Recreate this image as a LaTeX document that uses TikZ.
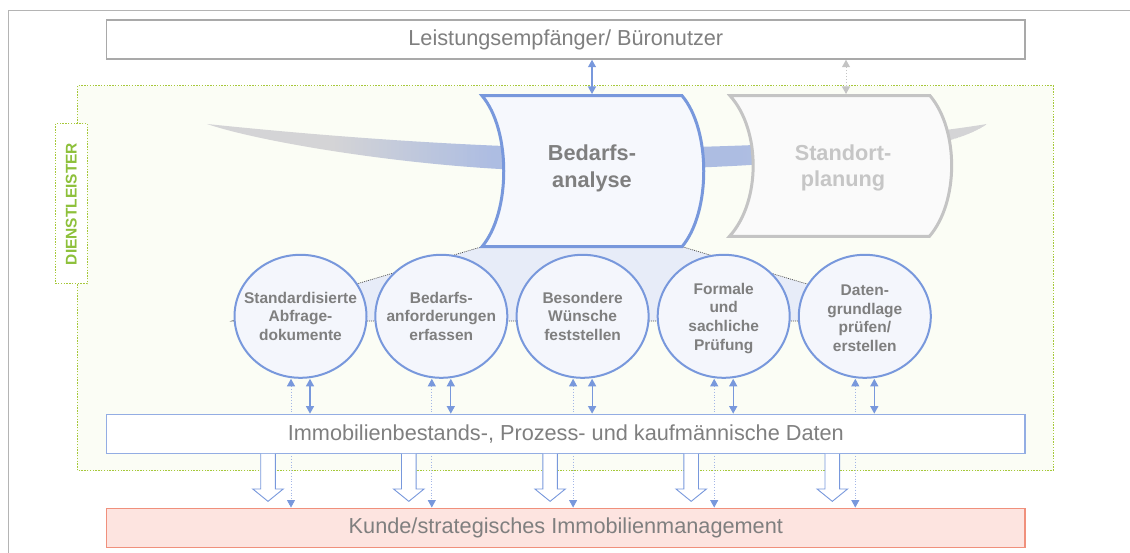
\documentclass[tikz,border=0pt]{standalone}
\usepackage{fontspec}
\setmainfont{Liberation Sans}
\usetikzlibrary{arrows.meta,shapes.geometric}

\definecolor{framegray}{HTML}{B4B4B4}
\definecolor{boxgray}{HTML}{A9A9A9}
\definecolor{txtgray}{HTML}{7F7F7F}
\definecolor{palegray}{HTML}{C4C4C4}
\definecolor{paletxt}{HTML}{C6C6C6}
\definecolor{leaf}{HTML}{A6C83A}
\definecolor{leaftxt}{HTML}{8DC03A}
\definecolor{leafbg}{HTML}{FBFDF5}
\definecolor{azure}{HTML}{7898DC}
\definecolor{azurelight}{HTML}{A3B6E6}
\definecolor{cellfill}{HTML}{F4F6FC}
\definecolor{shapefill}{HTML}{F6F8FD}
\definecolor{fanfill}{HTML}{E7ECF8}
\definecolor{salmon}{HTML}{F0907C}
\definecolor{salmonbg}{HTML}{FDE4E0}
\definecolor{sweepgray}{HTML}{D4D4D6}
\definecolor{sweepblue}{HTML}{ADBDE2}

\tikzset{
  bar/.style={rectangle, minimum width=918.3pt, minimum height=39pt, inner sep=0pt,
    text=txtgray, font=\fontsize{21.7}{26}\selectfont},
  cell/.style={ellipse, draw=azure, line width=2pt, fill=cellfill,
    minimum width=132pt, minimum height=123pt, inner sep=0pt},
  celltext/.style={align=center, inner sep=0pt,
    text=txtgray, font=\fontsize{15.5}{18.7}\selectfont\bfseries},
  bigtext/.style={align=center, inner sep=0pt, font=\fontsize{21.7}{26.7}\selectfont\bfseries},
  link/.style={draw=azure, line width=1.2pt, {Triangle[width=8pt,length=7.5pt,color=azure]}-{Triangle[width=8pt,length=7.5pt,color=azure]}},
  faintlink/.style={draw=azurelight, line width=0.8pt, dotted,
    {Triangle[width=8pt,length=7.5pt,color=azure]}-{Triangle[width=8pt,length=7.5pt,color=azure]}},
  greylink/.style={draw=palegray, line width=1pt, dotted,
    {Triangle[width=8pt,length=7.5pt,color=palegray]}-{Triangle[width=8pt,length=7.5pt,color=palegray]}},
  hollow/.style={draw=azure, line width=0.9pt, fill=white, line join=miter},
  leafline/.style={draw=leaf, line width=1pt, dash pattern=on 1.4pt off 1.4pt},
  fanedge/.style={draw=black!70, line width=0.7pt, dash pattern=on 1pt off 1pt},
}

\begin{document}
\begin{tikzpicture}[x=1pt,y=-1pt]
\useasboundingbox (0,0) rectangle (1130,553);

% outer frame (top and left edges)
\draw[framegray, line width=1.2pt] (8.5,553) -- (8.5,10.5) -- (1130,10.5);

% service provider area with its side tab
\fill[leafbg] (77.3,85.7) rectangle (1053,470.5);
\draw[leafline] (77.3,123.7) -- (77.3,85.7) -- (1053,85.7) -- (1053,470.5) -- (77.3,470.5) -- (77.3,283.7);
\draw[leafline, fill=white] (55.7,123.7) rectangle (87.3,283.7);
\node[rotate=90, text=leaftxt, inner sep=0pt, font=\fontsize{15.5}{18}\selectfont\bfseries] (dl) at (71.3,204) {DIENSTLEISTER};

% sweeping band behind the two process steps: grey at both tips, blue in the middle
\begin{scope}
  \clip (207,124) .. controls (380,142) and (540,150) .. (640,148)
    .. controls (790,146) and (900,138) .. (987,124)
    .. controls (965,140) and (910,155) .. (780,163)
    .. controls (700,169) and (600,171) .. (520,170)
    .. controls (400,165) and (260,142) .. (207,124) -- cycle;
  \foreach \k in {0,...,195}{
    \pgfmathsetmacro\xx{207+4*\k}
    \pgfmathsetmacro\pp{max(0,min(100,(\xx-330)/1.6,(930-\xx)/1.9))}
    \fill[sweepblue!\pp!sweepgray] (\xx,110) rectangle (\xx+4.4,180);
  }
\end{scope}

% fan from the analysis step down to its activities
\fill[fanfill] (482,246.7) -- (682,246.7) -- (931,321) -- (232,321) -- cycle;
\draw[fanedge] (482,246.7) -- (232,321) -- (931,321) -- (682,246.7);

% process steps
\draw[draw=azure, line width=3pt, fill=shapefill]
  (482,95.7) -- (682,95.7) .. controls (711,130) and (711,212) .. (682,246.7)
  -- (482,246.7) .. controls (511,212) and (511,130) .. (482,95.7) -- cycle;
\draw[draw=palegray, line width=3pt, fill=white!98!black]
  (730,95.7) -- (930,95.7) .. controls (959,130) and (959,202) .. (929.3,236.5)
  -- (729.3,236.5) .. controls (761,202) and (761,130) .. (730,95.7) -- cycle;
\node[bigtext, text=txtgray] (ba) at (592,168.3) {Bedarfs-\\analyse};
\node[bigtext, text=paletxt] (sp) at (843,168) {Standort-\\planung};
\coordinate (ba-top) at (592,94);
\coordinate (sp-top) at (846,94);

% recipients on top
\node[bar, draw=boxgray, line width=1.5pt, fill=white] (lb) at (565.85,39.5) {Leistungsempf\"anger/ B\"uronutzer};
\draw[link] (lb.south -| ba-top) -- (ba-top);
\draw[greylink] (lb.south -| sp-top) -- (sp-top);

% activities of the analysis
\node[cell] (c1) at (300.5,316.3) {};
\node[cell] (c2) at (441.3,316.3) {};
\node[cell] (c3) at (582.6,316.3) {};
\node[cell] (c4) at (723.7,316.3) {};
\node[cell] (c5) at (864.8,316.3) {};
\node[celltext] (t1) at (c1) {Standardisierte\\Abfrage-\\dokumente};
\node[celltext] (t2) at (c2) {Bedarfs-\\anforderungen\\erfassen};
\node[celltext] (t3) at (c3) {Besondere\\W\"unsche\\feststellen};
\node[celltext] (t4) at ([yshift=-2pt]c4.center) {Formale\\und\\sachliche\\Pr\"ufung};
\node[celltext] (t5) at ([yshift=-2pt]c5.center) {Daten-\\grundlage\\pr\"ufen/\\erstellen};

% customer at the bottom
\node[bar, draw=salmon, line width=1.5pt, fill=salmonbg, minimum height=39.4pt] (kb) at (565.85,528) {Kunde/strategisches Immobilienmanagement};

% direct links from each activity to the customer
\foreach \i in {1,...,5}
  \draw[faintlink] ([xshift=-9.5pt]c\i.south) -- ([xshift=-9.5pt]c\i.south |- kb.north);

% data layer
\node[bar, draw=azure!80, line width=1.3pt, fill=white] (db) at (565.85,433.8) {Immobilienbestands-, Prozess- und kaufm\"annische Daten};

\foreach \i in {1,...,5}{
  \draw[link] ([xshift=9.5pt]c\i.south) -- ([xshift=9.5pt]c\i.south |- db.north);
  \draw[hollow] ([xshift=-32.5pt]c\i.south |- db.south) ++(-7.3,0) -- ++(0,35) -- ++(-8,0)
    -- ++(15.3,12.4) -- ++(15.3,-12.4) -- ++(-8,0) -- ++(0,-35);
}
\end{tikzpicture}
\end{document}
